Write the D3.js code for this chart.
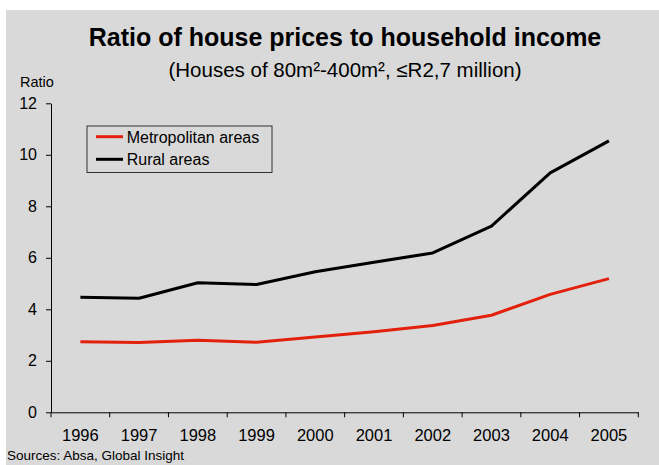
<!DOCTYPE html>
<html>
<head>
<meta charset="utf-8">
<script src="https://cdn.jsdelivr.net/npm/d3@7"></script>
<style>
  body { margin: 0; background: #fff; }
  svg { display: block; font-family: "Liberation Sans", Arial, sans-serif; }
  .axis path, .axis line { stroke: #000; }
  .axis text { fill: #000; }
</style>
</head>
<body>
<svg id="chart" width="659" height="465"></svg>
<script>
var years = ["1996", "1997", "1998", "1999", "2000", "2001", "2002", "2003", "2004", "2005"];
var metro = [2.74, 2.71, 2.80, 2.72, 2.92, 3.13, 3.37, 3.77, 4.58, 5.19];
var rural = [4.47, 4.43, 5.03, 4.96, 5.46, 5.83, 6.19, 7.23, 9.30, 10.54];
var yTicks = [0, 2, 4, 6, 8, 10, 12];

const svg = d3.select("#chart");

// background panel
svg.append("rect")
  .attr("x", 6).attr("y", 10)
  .attr("width", 653).attr("height", 455)
  .attr("fill", "#d9d9d9");

// Scales.
const x = d3.scaleBand()
  .domain(years)
  .range([51, 638.3])
  .paddingInner(0)
  .paddingOuter(0);
const y = d3.scaleLinear()
  .domain([0, 12])
  .range([412.3, 103.3]);

// Axes.
var xAxis = d3.axisBottom(x)
  .tickSizeInner(0)
  .tickSizeOuter(0)
  .tickPadding(17);

const gx = svg.append("g")
  .attr("class", "x axis")
  .attr("transform", "translate(0," + y(0) + ")")
  .call(xAxis);
gx.selectAll("text").attr("font-size", 16.5);

// x ticks sit on the category boundaries
var bounds = years.map(function(d) { return x(d); }).concat([x(years[years.length - 1]) + x.bandwidth()]);
gx.selectAll(".bound")
  .data(bounds)
  .enter()
  .append("line")
    .attr("class", "bound")
    .attr("x1", function(d) { return d; })
    .attr("x2", function(d) { return d; })
    .attr("y1", 0)
    .attr("y2", 5)
    .attr("stroke", "#000");

var yAxis = d3.axisLeft(y)
  .tickValues(yTicks)
  .tickSizeInner(5)
  .tickSizeOuter(0)
  .tickPadding(9);

const gy = svg.append("g")
  .attr("class", "y axis")
  .attr("transform", "translate(" + x.range()[0] + ",0)")
  .call(yAxis);
gy.selectAll("text").attr("font-size", 16);

// Lines.
const line = d3.line()
  .x(function(d, i) { return x(years[i]) + x.bandwidth() / 2; })
  .y(function(d) { return y(d); });

svg.append("path")
  .datum(rural)
  .attr("fill", "none")
  .attr("stroke", "#000")
  .attr("stroke-width", 3)
  .attr("stroke-linejoin", "round")
  .attr("d", line);

svg.append("path")
  .datum(metro)
  .attr("fill", "none")
  .attr("stroke", "#e2200c")
  .attr("stroke-width", 3)
  .attr("stroke-linejoin", "round")
  .attr("d", line);

// Titles.
svg.append("text")
  .attr("x", 345).attr("y", 45.7)
  .attr("text-anchor", "middle")
  .attr("font-size", 25)
  .attr("font-weight", "bold")
  .text("Ratio of house prices to household income");

svg.append("text")
  .attr("x", 345).attr("y", 76.5)
  .attr("text-anchor", "middle")
  .attr("font-size", 20.5)
  .text("(Houses of 80m²-400m², ≤R2,7 million)");

svg.append("text")
  .attr("x", 20).attr("y", 86.7)
  .attr("font-size", 14.5)
  .text("Ratio");

svg.append("text")
  .attr("x", 7).attr("y", 460)
  .attr("font-size", 13.5)
  .text("Sources: Absa, Global Insight");

// Legend.
var legendNames = ["Metropolitan areas", "Rural areas"];
var legendColors = ["#e2200c", "#000"];

const legend = svg.append("g").attr("transform", "translate(87,126)");
legend.append("rect")
  .attr("width", 185).attr("height", 46.5)
  .attr("fill", "none")
  .attr("stroke", "#333")
  .attr("stroke-width", 1);

const items = legend.selectAll(".item")
  .data(legendNames)
  .enter()
  .append("g")
    .attr("class", "item")
    .attr("transform", function(d, i) { return "translate(0," + (10.7 + i * 22.6) + ")"; });
items.append("line")
  .attr("x1", 9).attr("x2", 36)
  .attr("stroke", function(d, i) { return legendColors[i]; })
  .attr("stroke-width", 3);
items.append("text")
  .attr("x", 39.7).attr("y", 5.8)
  .attr("font-size", 16)
  .text(function(d) { return d; });
</script>
</body>
</html>
